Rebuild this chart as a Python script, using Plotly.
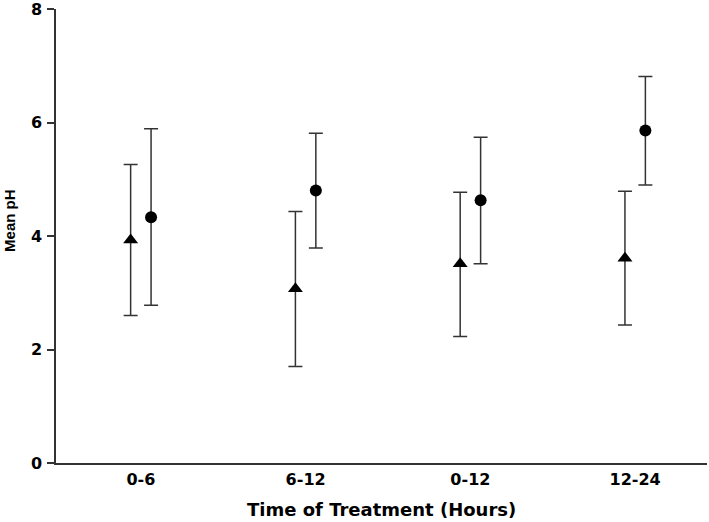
import plotly.graph_objects as go

categories = ["0-6", "6-12", "0-12", "12-24"]

tri_mean = [3.93, 3.07, 3.51, 3.61]
tri_upper = [5.26, 4.43, 4.77, 4.79]
tri_lower = [2.60, 1.70, 2.23, 2.43]

circ_mean = [4.33, 4.80, 4.63, 5.86]
circ_upper = [5.89, 5.81, 5.74, 6.81]
circ_lower = [2.78, 3.79, 3.51, 4.90]

y_ticks = [0, 2, 4, 6, 8]

x_title = "Time of Treatment (Hours)"
y_title = "Mean pH"

offset = 0.062
idx = list(range(len(categories)))

tick_font = "DejaVu Sans, sans-serif"
ytitle_font = "Liberation Sans, Arial, sans-serif"
line_col = "#333333"


def err(mean, up, lo):
    return dict(
        type="data",
        symmetric=False,
        array=[u - m for u, m in zip(up, mean)],
        arrayminus=[m - l for m, l in zip(mean, lo)],
        color=line_col,
        thickness=1.5,
        width=7,
    )


fig = go.Figure()
fig.add_trace(go.Scatter(
    x=[i - offset for i in idx], y=tri_mean, mode="markers",
    marker=dict(symbol="triangle-up", size=13, color="black"),
    error_y=err(tri_mean, tri_upper, tri_lower),
    showlegend=False,
))
fig.add_trace(go.Scatter(
    x=[i + offset for i in idx], y=circ_mean, mode="markers",
    marker=dict(symbol="circle", size=12, color="black"),
    error_y=err(circ_mean, circ_upper, circ_lower),
    showlegend=False,
))

fig.update_layout(
    width=709, height=522,
    margin=dict(l=56, r=2, t=9, b=59, autoexpand=False),
    plot_bgcolor="white", paper_bgcolor="white",
    font=dict(family=tick_font, color="black"),
    xaxis=dict(
        range=[-0.515, 3.436],
        tickvals=idx, ticktext=categories,
        ticks="", showgrid=False, zeroline=False,
        showline=True, linecolor=line_col, linewidth=1.5,
        tickfont=dict(size=16, weight="bold"),
        ticklabelstandoff=1,
        ticklabeloverflow="allow",
        automargin=False,
    ),
    yaxis=dict(
        range=[0, 8],
        tickvals=y_ticks, ticktext=[str(v) for v in y_ticks],
        ticks="outside", ticklen=7, tickwidth=1.5, tickcolor=line_col,
        showgrid=False, zeroline=False,
        showline=True, linecolor=line_col, linewidth=1.5,
        tickfont=dict(size=16, weight="bold"),
        ticklabelstandoff=2,
        ticklabeloverflow="allow",
        automargin=False,
    ),
    annotations=[
        dict(text=x_title, xref="paper", yref="paper", x=0.5, y=-0.1024,
             xanchor="center", yanchor="middle", showarrow=False,
             font=dict(family=tick_font, size=18, weight="bold")),
        dict(text=y_title, xref="paper", yref="paper", x=-0.0725, y=0.535,
             xanchor="center", yanchor="middle", showarrow=False, textangle=-90,
             font=dict(family=ytitle_font, size=15, weight="bold")),
    ],
)

fig.write_html("out.html", config={"displayModeBar": False},
               post_script="document.body.style.margin='0px';")
